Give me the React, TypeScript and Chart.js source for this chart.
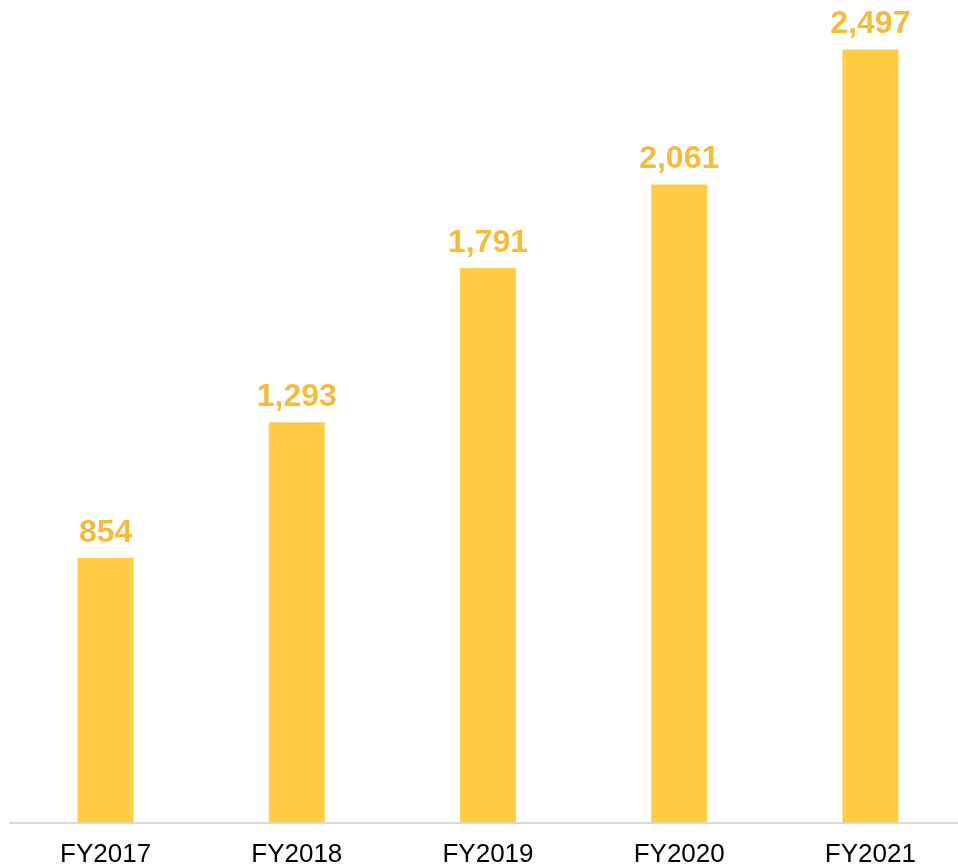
import React, { useEffect, useRef } from "react";
import { Chart, registerables } from "chart.js";

Chart.register(...registerables);

const categories = ["FY2017", "FY2018", "FY2019", "FY2020", "FY2021"];
const values = [854, 1293, 1791, 2061, 2497];

const BAR_COLOR = "#FFCC44";
const LABEL_COLOR = "#F4BC3A";

const valueLabels = {
  id: "valueLabels",
  afterDatasetsDraw(chart: any) {
    const ctx = chart.ctx;
    const meta = chart.getDatasetMeta(0);
    ctx.save();
    ctx.font = "bold 32px 'Liberation Sans', Arial, sans-serif";
    ctx.fillStyle = LABEL_COLOR;
    ctx.textAlign = "center";
    ctx.textBaseline = "alphabetic";
    meta.data.forEach((bar: any, i: number) => {
      const v = chart.data.datasets[0].data[i] as number;
      ctx.fillText(v.toLocaleString("en-US"), bar.x, bar.y - 16);
    });
    ctx.restore();
  },
};

export default function App() {
  const ref = useRef<HTMLCanvasElement | null>(null);
  useEffect(() => {
    document.body.style.margin = "0";
    const chart = new Chart(ref.current!, {
      type: "bar",
      data: {
        labels: categories,
        datasets: [
          {
            data: values,
            backgroundColor: BAR_COLOR,
            borderWidth: 0,
            barPercentage: 0.293,
            categoryPercentage: 1,
          },
        ],
      },
      options: {
        responsive: false,
        animation: false,
        layout: { padding: { left: 10, right: 0, top: 17.5, bottom: 0 } },
        plugins: { legend: { display: false }, tooltip: { enabled: false } },
        scales: {
          x: {
            grid: { display: false, drawTicks: false },
            border: { display: true, color: "#D9D9D9", width: 2 },
            ticks: {
              color: "#000000",
              padding: 16.5,
              font: { family: "'Liberation Sans', Arial, sans-serif", size: 26, lineHeight: 31.5 / 26 },
            },
          },
          y: {
            display: false,
            min: 0,
            max: 2600,
          },
        },
      },
      plugins: [valueLabels],
    });
    return () => chart.destroy();
  }, []);
  return (
    <div style={{ width: 958, height: 865, overflow: "hidden", background: "#fff" }}>
      <canvas ref={ref} width={966} height={887} style={{ display: "block" }} />
    </div>
  );
}
